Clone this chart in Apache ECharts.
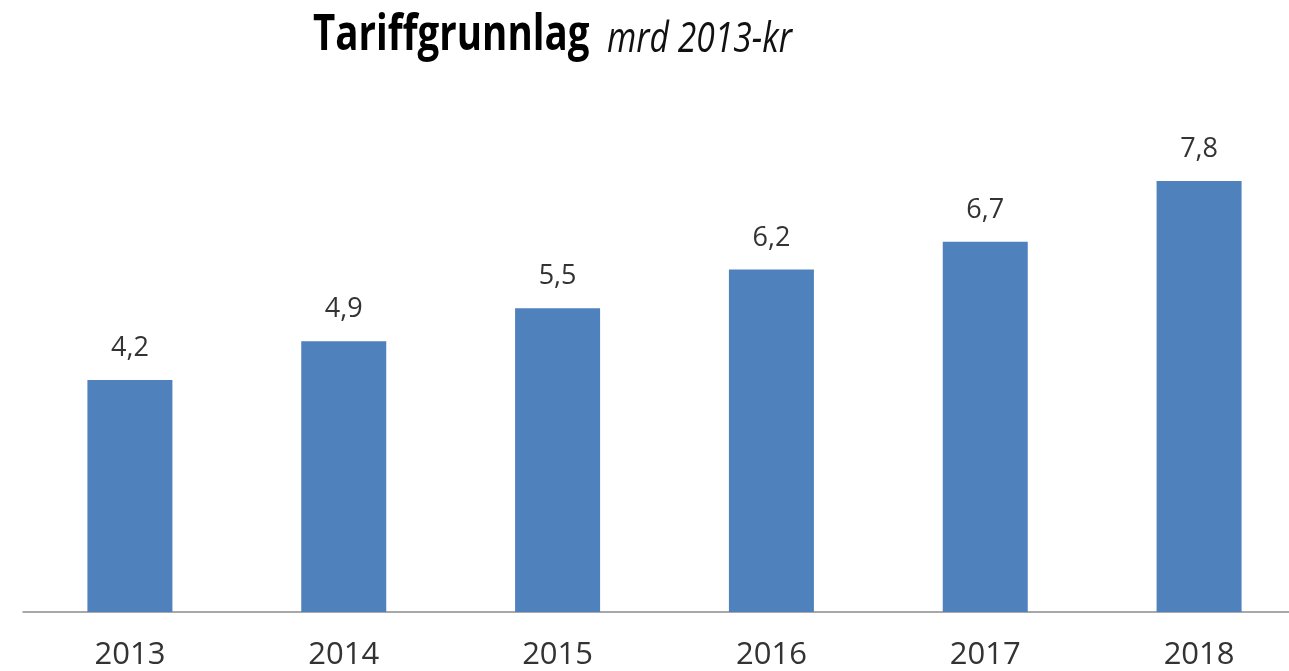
<!DOCTYPE html>
<html>
<head>
    <meta charset="UTF-8">
    <title>Tariffgrunnlag</title>
    <script src="https://cdn.jsdelivr.net/npm/echarts@6/dist/echarts.min.js"></script>
    <style>
        html, body { margin: 0; padding: 0; background: #fff; }
        #chart { width: 1289px; height: 671px; }
    </style>
</head>
<body>
    <div id="chart"></div>
    <script type="text/javascript">
        // data
        var years = ['2013', '2014', '2015', '2016', '2017', '2018'];
        var values = [4.2, 4.9, 5.5, 6.2, 6.7, 7.8];
        var titleMain = 'Tariffgrunnlag';
        var titleUnit = 'mrd 2013-kr';

        var myChart = echarts.init(document.getElementById('chart'));

        var option = {
            backgroundColor: '#FFFFFF',
            animation: false,
            graphic: [
                {
                    type: 'text',
                    x: 313,
                    y: 61,
                    scaleX: 0.77,
                    style: {
                        text: titleMain,
                        font: 'bold 50px "Open Sans"',
                        fill: '#000',
                        verticalAlign: 'bottom'
                    }
                },
                {
                    type: 'text',
                    x: 607,
                    y: 61,
                    scaleX: 0.8,
                    style: {
                        text: titleUnit,
                        font: 'italic 42px "Open Sans"',
                        fill: '#111',
                        verticalAlign: 'bottom'
                    }
                }
            ],
            grid: {
                left: 23,
                width: 1283,
                top: 170,
                bottom: 59,
                outerBoundsMode: 'none',
                containLabel: false
            },
            xAxis: {
                type: 'category',
                data: years,
                axisTick: { show: false },
                axisLine: { lineStyle: { color: '#8C8C8C', width: 1.5 } },
                axisLabel: {
                    margin: 28,
                    fontFamily: 'Open Sans',
                    fontSize: 31,
                    color: '#333'
                }
            },
            yAxis: {
                type: 'value',
                min: 0,
                max: 8,
                show: false,
                splitLine: { show: false }
            },
            series: [
                {
                    type: 'bar',
                    data: values,
                    barWidth: 85,
                    itemStyle: { color: '#4F81BD' },
                    label: {
                        show: true,
                        position: 'top',
                        distance: 18,
                        fontFamily: 'Open Sans',
                        fontSize: 27,
                        color: '#333',
                        formatter: function (p) {
                            return p.value.toFixed(1).replace('.', ',');
                        }
                    }
                }
            ]
        };

        myChart.setOption(option);
    </script>
</body>
</html>
